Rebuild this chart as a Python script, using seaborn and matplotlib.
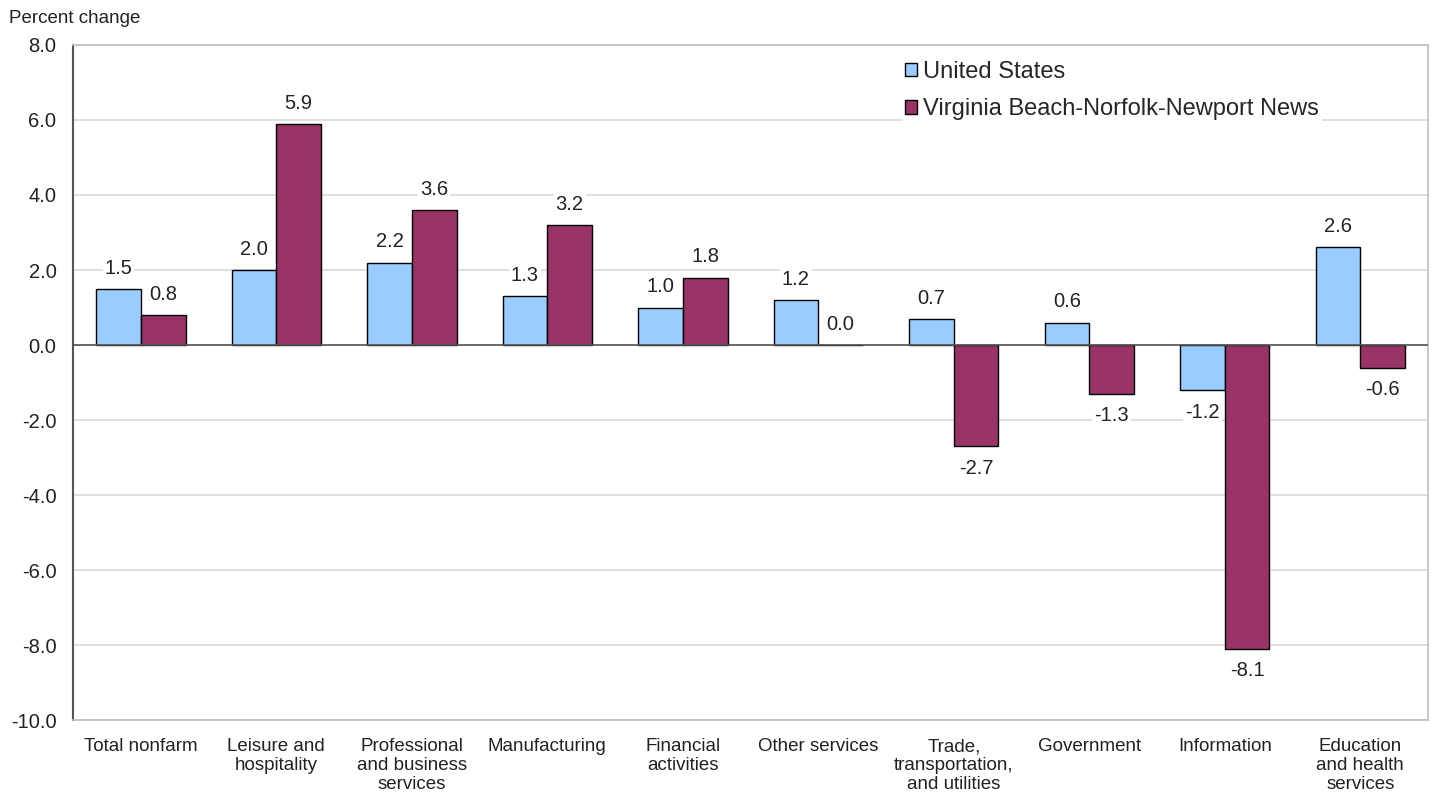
import pandas as pd
import matplotlib
matplotlib.use("Agg")
import matplotlib.pyplot as plt
import seaborn as sns

# Chart data
categories = [
    "Total nonfarm", "Leisure and\nhospitality", "Professional\nand business\nservices",
    "Manufacturing", "Financial\nactivities", "Other services",
    "Trade,\ntransportation,\nand utilities", "Government", "Information",
    "Education\nand health\nservices",
]
us_values = [1.5, 2.0, 2.2, 1.3, 1.0, 1.2, 0.7, 0.6, -1.2, 2.6]
vb_values = [0.8, 5.9, 3.6, 3.2, 1.8, 0.0, -2.7, -1.3, -8.1, -0.6]
series_names = ["United States", "Virginia Beach-Norfolk-Newport News"]
y_ticks = [-10.0, -8.0, -6.0, -4.0, -2.0, 0.0, 2.0, 4.0, 6.0, 8.0]

df = pd.DataFrame({
    "category": categories * 2,
    "value": us_values + vb_values,
    "area": [series_names[0]] * len(categories) + [series_names[1]] * len(categories),
})

sns.set_theme(style="white")
plt.rcParams["font.family"] = ["Liberation Sans", "DejaVu Sans"]

fig = plt.figure(figsize=(14.33, 8.02), dpi=100)
ax = fig.add_axes([0.051, 0.102, 0.9455, 0.842])

sns.barplot(data=df, x="category", y="value", hue="area", order=categories,
            hue_order=series_names, palette=["#99CCFF", "#993366"], saturation=1,
            width=0.66, edgecolor="black", linewidth=1.0, ax=ax, zorder=3)

ax.set_ylim(-10, 8)
ax.set_yticks(y_ticks)
ax.set_yticklabels([f"{t:.1f}" for t in y_ticks], fontsize=14.5, color="#222222")
ax.tick_params(axis="x", labelsize=13.5, colors="#222222", length=0, pad=13)
ax.tick_params(axis="y", length=0, pad=12)
for lbl in ax.get_xticklabels():
    lbl.set_linespacing(1.15)
ax.set_xlabel("")
ax.set_ylabel("")
ax.grid(axis="y", color="#d9d9d9", linewidth=1.2, zorder=0)
ax.axhline(0, color="#555555", linewidth=1.2, zorder=4)

for side in ["top", "right", "bottom"]:
    ax.spines[side].set_color("#bfbfbf")
    ax.spines[side].set_linewidth(1.2)
ax.spines["left"].set_color("#555555")
ax.spines["left"].set_linewidth(1.5)

# value labels
for container in ax.containers:
    for bar in container:
        h = bar.get_height()
        x = bar.get_x() + bar.get_width() / 2
        if h >= 0:
            ax.annotate(f"{h:.1f}", (x, h), xytext=(0, 8), textcoords="offset points",
                        ha="center", va="bottom", fontsize=14.5, color="#222222",
                        bbox=dict(facecolor="white", edgecolor="none", pad=1.5), zorder=5)
        else:
            ax.annotate(f"{h:.1f}", (x, h), xytext=(0, -9), textcoords="offset points",
                        ha="center", va="top", fontsize=14.5, color="#222222",
                        bbox=dict(facecolor="white", edgecolor="none", pad=1.5), zorder=5)

leg = ax.legend(loc="upper right", bbox_to_anchor=(0.93, 0.997), frameon=True,
                fontsize=17, handlelength=0.5, handleheight=0.5, handletextpad=0.25,
                borderpad=0.1, labelspacing=0.65, fancybox=False)
leg.get_frame().set_edgecolor("white")
leg.get_frame().set_facecolor("white")
leg.get_frame().set_alpha(1)
leg.set_zorder(6)

fig.text(0.006, 0.977, "Percent change", fontsize=13.5, color="#222222", ha="left", va="center")

fig.savefig("out.png", dpi=100)
